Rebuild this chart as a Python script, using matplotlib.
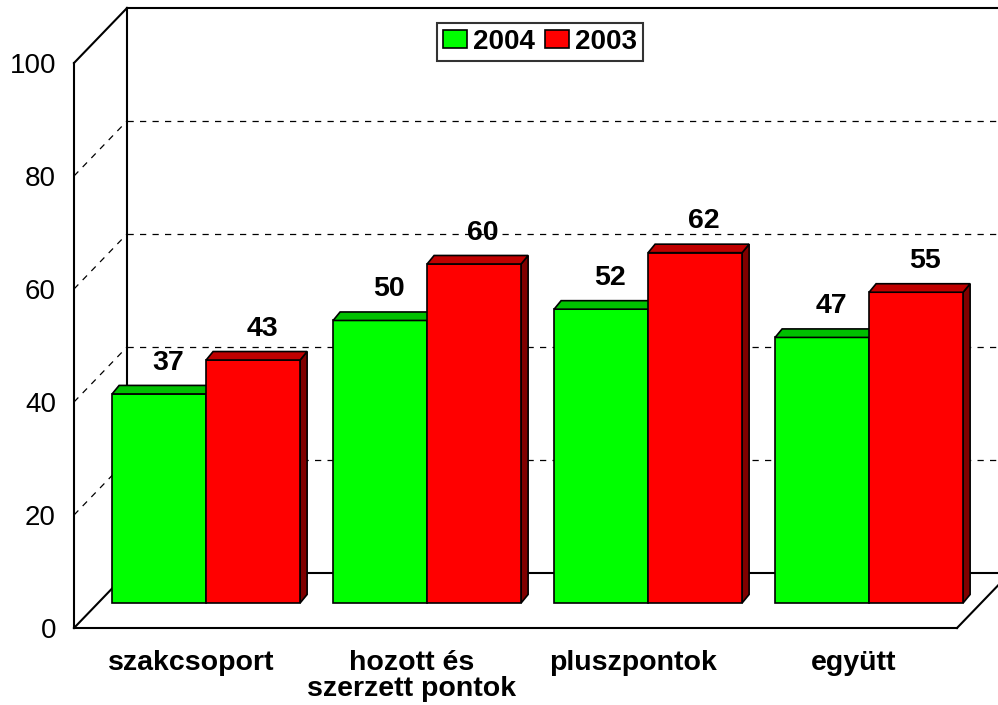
import matplotlib
matplotlib.use("Agg")
import matplotlib.pyplot as plt
from matplotlib.patches import Polygon
import numpy as np

# ---- data ----
categories = ["szakcsoport", "hozott és\nszerzett pontok", "pluszpontok", "együtt"]
series_names = ["2004", "2003"]
values_2004 = [37, 50, 52, 47]
values_2003 = [43, 60, 62, 55]
y_ticks = [0, 20, 40, 60, 80, 100]

# ---- styles ----
FONT = "Liberation Sans"
front_cols = {"2004": "#00FF00", "2003": "#FF0000"}
top_cols = {"2004": "#00C000", "2003": "#C00000"}
side_cols = {"2004": "#008000", "2003": "#800000"}

W, H = 998, 705
fig = plt.figure(figsize=(W / 100, H / 100), dpi=100)
fig.patch.set_facecolor("white")

# axes = front plane of the 3-D box (pixel anchors)
px_left, px_right, px_bottom, px_top = 74, 957, 628, 63
ax = fig.add_axes([px_left / W, 1 - px_bottom / H,
                   (px_right - px_left) / W, (px_bottom - px_top) / H])
x = np.arange(len(categories))
xpx = 221.0                       # pixels per category unit
x_left = (px_left - 182) / xpx
x_right = (px_right - 182) / xpx
ax.set_xlim(x_left, x_right)
ax.set_ylim(0, 100)
ypx = (px_bottom - px_top) / 100.0  # pixels per value unit

# depth of the box and of the bars (data units)
DX, DY = 53 / xpx, 55 / ypx
f_bar = 0.455
bx0, by0 = f_bar * DX, f_bar * DY     # bar plane offset
bdx, bdy = 7 / xpx, 8.5 / ypx         # bar thickness
bw = 94 / xpx                         # bar width

for s in ["top", "right"]:
    ax.spines[s].set_visible(False)
for s in ["left", "bottom"]:
    ax.spines[s].set_linewidth(1.5)
    ax.spines[s].set_zorder(1)
ax.set_facecolor("none")

ax.set_yticks(y_ticks)
ax.set_yticklabels([str(t) for t in y_ticks], fontsize=20, family=FONT)
ax.tick_params(axis="y", length=0, pad=13)
lab_shift = 9 / xpx
ax.set_xticks(x + lab_shift)
ax.set_xticklabels(categories, fontsize=20.5, family=FONT, fontweight="bold",
                   linespacing=0.98, va="top")
ax.tick_params(axis="x", length=0, pad=16)

lk = dict(color="black", lw=1.5, clip_on=False, zorder=1, solid_capstyle="projecting")
# back wall, left wall, floor outlines
bxl, bxr = x_left + DX, x_right + DX
ax.plot([x_left, bxl], [100, 100 + DY], **lk)
ax.plot([bxl, bxr + 1], [100 + DY, 100 + DY], **lk)
ax.plot([bxl, bxl], [DY, 100 + DY], **lk)
ax.plot([x_left, bxl], [0, DY], **lk)
ax.plot([bxl, bxr], [DY, DY], **lk)
ax.plot([x_right, bxr], [0, DY], **lk)
ax.plot([bxr, bxr], [DY, 100 + DY], **lk)

# gridlines: back wall horizontal and left wall diagonal, dashed
dk = dict(color="black", lw=0.9, clip_on=False, zorder=1, linestyle=(0, (5, 5)))
for t in y_ticks[1:-1]:
    ax.plot([bxl, bxr + 1], [t + DY, t + DY], **dk)
    ax.plot([x_left, bxl], [t, t + DY], **dk)

# bars with 3-D faces
series = {"2004": values_2004, "2003": values_2003}
handles = []
for k, name in enumerate(series_names):
    vals = np.array(series[name], dtype=float)
    lefts = x + bx0 - bw + k * bw
    bars = ax.bar(lefts, vals, width=bw, bottom=by0, align="edge",
                  color=front_cols[name], edgecolor="black", linewidth=1.2,
                  zorder=3 + 2 * k, clip_on=False, label=name)
    handles.append(bars)
    for l, v in zip(lefts, vals):
        top = by0 + v
        topface = Polygon([(l, top), (l + bw, top), (l + bw + bdx, top + bdy),
                           (l + bdx, top + bdy)], closed=True,
                          facecolor=top_cols[name], edgecolor="black", lw=1.2,
                          zorder=3 + 2 * k, clip_on=False)
        side = Polygon([(l + bw, by0), (l + bw + bdx, by0 + bdy),
                        (l + bw + bdx, top + bdy), (l + bw, top)], closed=True,
                       facecolor=side_cols[name], edgecolor="black", lw=1.2,
                       zorder=2 + 2 * k, clip_on=False)
        ax.add_patch(topface)
        ax.add_patch(side)
        ax.text(l + bw / 2 + bdx + 2 / xpx, top + bdy + 2.8, f"{int(v)}",
                ha="center", va="baseline", fontsize=20.5, family=FONT,
                fontweight="bold", zorder=10, clip_on=False)

leg = fig.legend(handles=handles, labels=series_names, loc="center",
                 bbox_to_anchor=(540 / W, 1 - 42 / H), ncol=2,
                 prop={"family": FONT, "weight": "bold", "size": 20},
                 frameon=True, fancybox=False, handlelength=0.85,
                 handleheight=0.62, handletextpad=0.2, columnspacing=0.4,
                 borderpad=0.22, borderaxespad=0)
leg.get_frame().set_edgecolor("black")
leg.get_frame().set_linewidth(1.5)

fig.savefig("out.png", dpi=100, facecolor="white")
